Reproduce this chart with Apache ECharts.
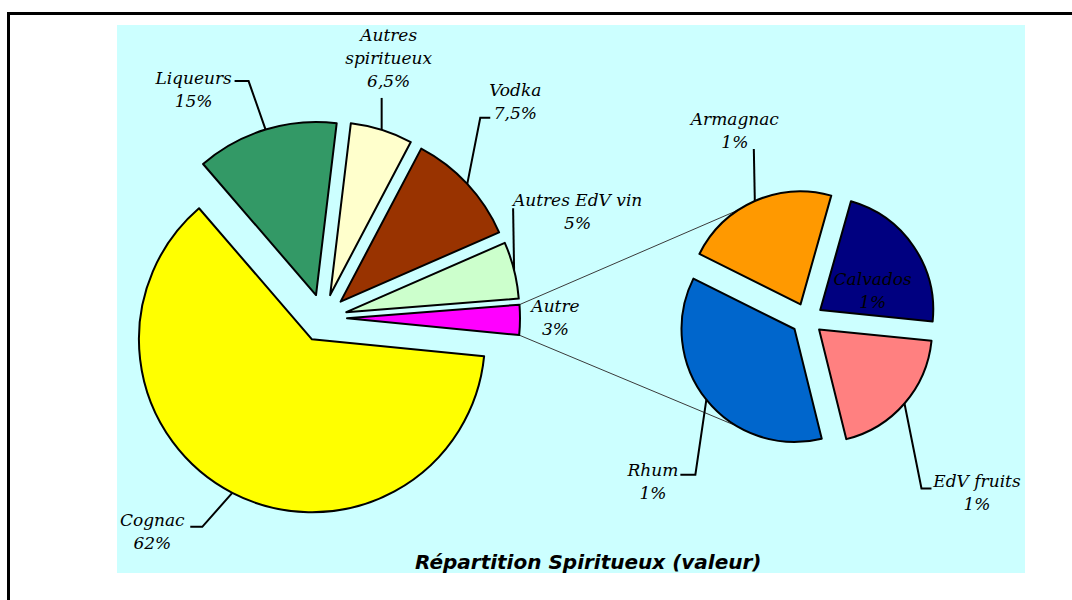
<!DOCTYPE html>
<html>
<head>
<meta charset="utf-8">
<script src="https://cdn.jsdelivr.net/npm/echarts@6/dist/echarts.min.js"></script>
<style>
html,body{margin:0;padding:0;background:#ffffff;overflow:hidden;}
#frame{position:absolute;left:7px;top:12px;width:1200px;height:700px;border-left:3px solid #000;border-top:3px solid #000;}
#chart{position:absolute;left:0;top:0;width:1072px;height:600px;}
</style>
</head>
<body>
<div id="frame"></div>
<div id="chart"></div>
<script>
// ---- data ----
const mainCategories = ['Cognac', 'Liqueurs', 'Autres spiritueux', 'Vodka', 'Autres EdV vin', 'Autre'];
const mainDisplayNames = ['Cognac', 'Liqueurs', 'Autres\nspiritueux', 'Vodka', 'Autres EdV vin', 'Autre'];
const mainValues = [62, 13.2, 5.8, 10.7, 5.3, 2.8];
const mainLabels = ['62%', '15%', '6,5%', '7,5%', '5%', '3%'];

const subCategories = ['Armagnac', 'Calvados', 'EdV fruits', 'Rhum'];
const subValues = [22, 22.2, 19.5, 36.2];
const subLabels = ['1%', '1%', '1%', '1%'];

const titleText = 'Répartition Spiritueux (valeur)';

// ---- styles / layout ----
const mainColors = ['#FFFF00', '#339966', '#FFFFCC', '#993300', '#CCFFCC', '#FF00FF'];
const subColors = ['#FF9900', '#000080', '#FF8080', '#0066CC'];
const MAIN = {center: [323, 318], radius: 173, explode: 24, startAngle: 354.4};
const SUB = {center: [807, 319], radius: 113, explode: 16, startAngle: 153.5};
// label placement relative to the slice's outer mid-arc point: c = label centre, line = leader bends
const mainLabelPlace = [
  {c: [-80, 38.5], line: [[-30, 34], [-42, 34]]},
  {c: [-72, -40], line: [[-17, -48.5], [-31, -48.5]]},
  {c: [7, -72], line: [[0, -32]]},
  {c: [48, -82.5], line: [[13, -66], [23, -66]]},
  {c: [63.5, -58.5], line: [[-1, -62]]},
  {c: [35.5, -2], line: null}
];
const subLabelPlace = [
  {c: [-20, -71], line: [[-1, -52]]},
  {c: [-41, 44], line: null},
  {c: [72.5, 89.5], line: [[17, 85], [27, 85]]},
  {c: [-53.5, 82], line: [[-11, 75], [-26, 75]]}
];
const connectorAngles = [123.4, 239]; // degrees on the secondary pie (upper, lower)

const chart = echarts.init(document.getElementById('chart'), null, {renderer: 'svg', width: 1072, height: 600});

function sliceGeom(seriesIndex, idx) {
  const cfg = seriesIndex === 0 ? MAIN : SUB;
  const L = chart.getModel().getSeriesByIndex(seriesIndex).getData().getItemLayout(idx);
  const mid = (L.startAngle + L.endAngle) / 2;
  const sx = L.cx + cfg.explode * Math.cos(mid);
  const sy = L.cy + cfg.explode * Math.sin(mid);
  return {L, mid, sx, sy, px: sx + L.r * Math.cos(mid), py: sy + L.r * Math.sin(mid)};
}

function buildData(cats, values, colors) {
  return cats.map((c, i) => ({
    name: c,
    value: values[i],
    selected: true,
    itemStyle: {color: colors[i]},
    select: {itemStyle: {color: colors[i], borderColor: '#000', borderWidth: 2}}
  }));
}

function pieSeries(cfg, data) {
  return {
    type: 'pie',
    center: cfg.center,
    radius: cfg.radius,
    startAngle: cfg.startAngle,
    clockwise: true,
    selectedMode: 'multiple',
    selectedOffset: cfg.explode,
    avoidLabelOverlap: false,
    animation: false,
    silent: true,
    emphasis: {disabled: true},
    itemStyle: {borderColor: '#000000', borderWidth: 2},
    label: {show: false},
    labelLine: {show: false},
    data: data
  };
}

const bgRect = {id: 'bg', type: 'rect', z: -10, silent: true, shape: {x: 117, y: 25, width: 908, height: 548}, style: {fill: '#CCFFFF'}};

chart.setOption({
  backgroundColor: 'transparent',
  animation: false,
  title: {
    text: titleText,
    left: 415,
    top: 552,
    padding: 0,
    textStyle: {fontFamily: 'DejaVu Sans', fontStyle: 'italic', fontWeight: 'bold', fontSize: 20, lineHeight: 20, color: '#000000'}
  },
  graphic: [bgRect],
  series: [
    pieSeries(MAIN, buildData(mainCategories, mainValues, mainColors)),
    pieSeries(SUB, buildData(subCategories, subValues, subColors))
  ]
});

// labels, leader lines and connector lines, placed from the library's pie layout
(function () {
  const els = [bgRect];
  function addLabels(seriesIndex, names, pcts, places) {
    names.forEach((nm, i) => {
      const g = sliceGeom(seriesIndex, i);
      const pl = places[i];
      if (pl.line) {
        const pts = [[g.px, g.py]];
        pl.line.forEach(p => pts.push([g.px + p[0], g.py + p[1]]));
        els.push({type: 'polyline', z: 20, silent: true, shape: {points: pts},
          style: {stroke: '#000000', lineWidth: 2, fill: null}});
      }
      els.push({type: 'text', z: 21, silent: true, x: g.px + pl.c[0], y: g.py + pl.c[1],
        style: {text: nm + '\n' + pcts[i], fontFamily: 'DejaVu Serif', fontStyle: 'italic', fontSize: 17,
          lineHeight: 23, fill: '#000000', align: 'center', verticalAlign: 'middle'}});
    });
  }
  addLabels(0, mainDisplayNames, mainLabels, mainLabelPlace);
  addLabels(1, subCategories, subLabels, subLabelPlace);

  const a = sliceGeom(0, mainCategories.length - 1);
  const r = a.L.r;
  const up = [a.sx + r * Math.cos(a.L.startAngle), a.sy + r * Math.sin(a.L.startAngle)];
  const lo = [a.sx + r * Math.cos(a.L.endAngle), a.sy + r * Math.sin(a.L.endAngle)];
  const first = sliceGeom(1, 0);
  const last = sliceGeom(1, subCategories.length - 1);
  const t1 = -connectorAngles[0] * Math.PI / 180;
  const t2 = -connectorAngles[1] * Math.PI / 180;
  const p1 = [first.sx + first.L.r * Math.cos(t1), first.sy + first.L.r * Math.sin(t1)];
  const p2 = [last.sx + last.L.r * Math.cos(t2), last.sy + last.L.r * Math.sin(t2)];
  els.push({type: 'line', z: 1, silent: true, shape: {x1: up[0], y1: up[1], x2: p1[0], y2: p1[1]}, style: {stroke: '#3a3a3a', lineWidth: 1}});
  els.push({type: 'line', z: 1, silent: true, shape: {x1: lo[0], y1: lo[1], x2: p2[0], y2: p2[1]}, style: {stroke: '#3a3a3a', lineWidth: 1}});
  chart.setOption({graphic: els});
})();
</script>
</body>
</html>
